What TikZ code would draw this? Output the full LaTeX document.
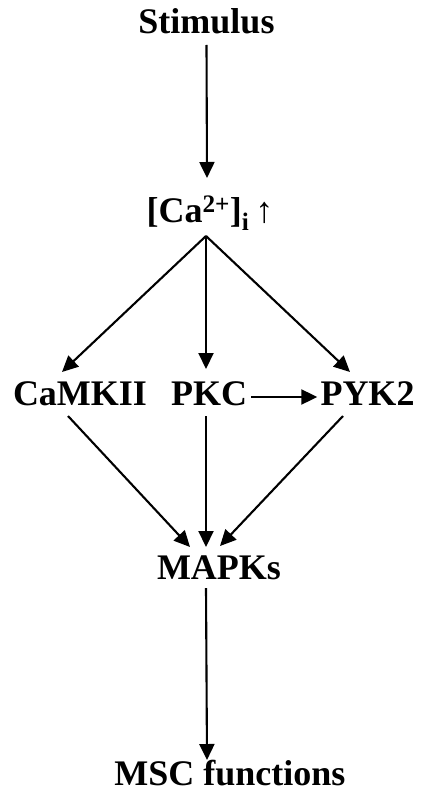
\documentclass[tikz,border=0pt]{standalone}
\usepackage{fontspec}
\setmainfont{Liberation Serif}
\usetikzlibrary{arrows.meta}
\tikzset{
  lbl/.style={inner sep=0pt, anchor=base, font=\fontsize{36}{40}\selectfont\bfseries},
  arr/.style={line width=2.1pt, -{Triangle[length=16pt,width=15pt]}}
}
\begin{document}
\begin{tikzpicture}[x=1pt,y=-1pt]
\useasboundingbox (0,0) rectangle (420,797);
\node[lbl] (stim) at (206.5,34) {Stimulus};
\node[lbl] (ca) at (210,222) {[Ca\textsuperscript{2+}]\textsubscript{i}\,\textmd{↑}};
\node[lbl] (camk) at (80,405) {CaMKII};
\node[lbl] (pkc) at (209,405) {PKC};
\node[lbl] (pyk) at (367.5,405) {PYK2};
\node[lbl] (mapk) at (219,579) {MAPKs};
\node[lbl] (msc) at (230,785) {MSC functions};
\draw[arr] ([yshift=-11pt]stim.base) -- ([xshift=-3pt,yshift=44pt]ca.base);
\draw[arr] ([xshift=-4pt,yshift=-14pt]ca.base) -- ([xshift=-18pt,yshift=33pt]camk.base);
\draw[arr] ([xshift=-4pt,yshift=-14pt]ca.base) -- ([xshift=-3pt,yshift=36pt]pkc.base);
\draw[arr] ([xshift=-4pt,yshift=-14pt]ca.base) -- ([xshift=-17.5pt,yshift=33pt]pyk.base);
\draw[arr] ([xshift=4pt,yshift=8pt]pkc.base east) -- ([xshift=-3pt,yshift=8pt]pyk.base west);
\draw[arr] ([xshift=-12pt,yshift=-11pt]camk.base) -- ([xshift=-29pt,yshift=32pt]mapk.base);
\draw[arr] ([xshift=-3pt,yshift=-11pt]pkc.base) -- ([xshift=-13pt,yshift=32pt]mapk.base);
\draw[arr] ([xshift=-24.5pt,yshift=-11pt]pyk.base) -- ([xshift=1pt,yshift=33pt]mapk.base);
\draw[arr] ([xshift=-13pt,yshift=-9pt]mapk.base) -- ([xshift=-23pt,yshift=25pt]msc.base);
\end{tikzpicture}
\end{document}
